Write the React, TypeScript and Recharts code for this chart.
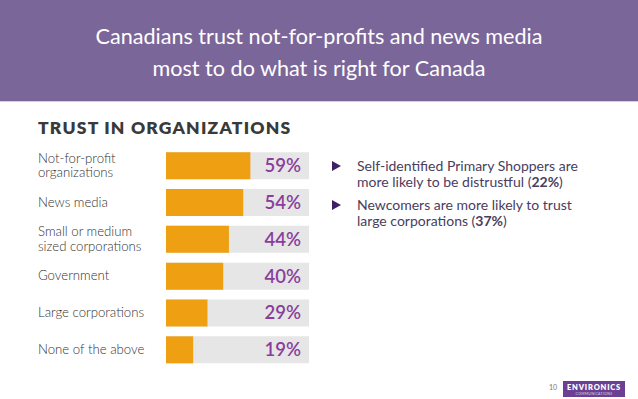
import React from "react";
import { BarChart, Bar, XAxis, YAxis, LabelList } from "recharts";

const categories = [
  "Not-for-profit|organizations",
  "News media",
  "Small or medium|sized corporations",
  "Government",
  "Large corporations",
  "None of the above",
];
const trustValues = [59, 54, 44, 40, 29, 19];
const titleLines = [
  "Canadians trust not-for-profits and news media",
  "most to do what is right for Canada",
];
const sectionTitle = "TRUST IN ORGANIZATIONS";
const SCALE_MAX = 100;

const data = categories.map((c, i) => ({ name: c, value: trustValues[i] }));

const PURPLE_HEADER = "#7b6699";
const ORANGE = "#ef9f12";
const GREY_BG = "#e6e6e6";
const VALUE_PURPLE = "#8a3d9d";
const FONT = "Lato, 'Noto Sans', sans-serif";

const CategoryTick = (props: any) => {
  const { y, payload } = props;
  const lines: string[] = String(payload.value).split("|");
  const lh = 14.5;
  const start = -((lines.length - 1) * lh) / 2;
  return (
    <text
      x={38}
      y={y}
      fill="#333"
      fontSize={13.2}
      fontFamily={FONT}
      fontWeight={300}
      textAnchor="start"
    >
      {lines.map((l, i) => (
        <tspan key={i} x={38} dy={i === 0 ? start + 4.5 : lh}>
          {l}
        </tspan>
      ))}
    </text>
  );
};

const ValueLabel = (props: any) => {
  const { x, y, width, height, value } = props;
  const right = x + (width * SCALE_MAX) / value - 8;
  return (
    <text
      x={right}
      y={y + height / 2 + 6.5}
      textAnchor="end"
      fill={VALUE_PURPLE}
      fontSize={18.5}
      fontWeight={600}
      fontFamily={FONT}
    >
      {value}%
    </text>
  );
};

export default function App() {
  return (
    <div
      style={{
        position: "absolute",
        left: 0,
        top: 0,
        width: 638,
        height: 399,
        background: "#fff",
        fontFamily: FONT,
        overflow: "hidden",
      }}
    >
      <div
        style={{
          position: "absolute",
          left: 0,
          top: 0,
          width: 638,
          height: 101,
          background: PURPLE_HEADER,
          borderBottom: "1.5px solid #cfcfcf",
        }}
      />
      {titleLines.map((t, i) => (
        <div
          key={i}
          style={{
            position: "absolute",
            left: 0,
            width: 638,
            top: 23 + i * 32,
            textAlign: "center",
            color: "#fff",
            fontSize: 21.6,
            fontFamily: FONT,
            lineHeight: "26px",
          }}
        >
          {t}
        </div>
      ))}
      <div
        style={{
          position: "absolute",
          left: 38,
          top: 117,
          color: "#3a3a3a",
          fontSize: 17.5,
          fontWeight: 800,
          letterSpacing: 1.2,
          lineHeight: "22px",
        }}
      >
        {sectionTitle}
      </div>

      <div style={{ position: "absolute", left: 0, top: 0 }}>
        <BarChart
          width={638}
          height={399}
          layout="vertical"
          data={data}
          margin={{ top: 147, bottom: 31, left: 0, right: 329 }}
          barCategoryGap="14%"
        >
          <XAxis type="number" domain={[0, SCALE_MAX]} hide />
          <YAxis
            type="category"
            dataKey="name"
            width={166}
            axisLine={false}
            tickLine={false}
            tick={<CategoryTick />}
            interval={0}
          />
          <Bar
            dataKey="value"
            fill={ORANGE}
            background={{ fill: GREY_BG }}
            isAnimationActive={false}
          >
            <LabelList dataKey="value" content={<ValueLabel />} />
          </Bar>
        </BarChart>
      </div>

      <div
        style={{
          position: "absolute",
          left: 330,
          top: 158,
          width: 295,
          color: "#4a3d5e",
          fontSize: 14,
          lineHeight: "16px",
        }}
      >
        {[
          ["Self-identified Primary Shoppers are", "more likely to be distrustful (", "22%", ")"],
          ["Newcomers are more likely to trust", "large corporations  (", "37%", ")"],
        ].map((b, i) => (
          <div key={i} style={{ position: "relative", paddingLeft: 27, marginBottom: 7 }}>
            <span
              style={{
                position: "absolute",
                left: 2,
                top: 3,
                width: 0,
                height: 0,
                borderTop: "5px solid transparent",
                borderBottom: "5px solid transparent",
                borderLeft: "9px solid #3f1f66",
              }}
            />
            {b[0]}
            <br />
            {b[1]}
            <b>{b[2]}</b>
            {b[3]}
          </div>
        ))}
      </div>

      <div
        style={{
          position: "absolute",
          left: 549,
          top: 383,
          fontSize: 7,
          color: "#777",
        }}
      >
        10
      </div>
      <div
        style={{
          position: "absolute",
          left: 563,
          top: 381,
          width: 62,
          height: 16,
          background: "#6b3f94",
          color: "#fff",
          textAlign: "center",
        }}
      >
        <div style={{ fontSize: 7.5, fontWeight: 800, letterSpacing: 0.8, lineHeight: "9px", marginTop: 2 }}>
          ENVIRONICS
        </div>
        <div style={{ fontSize: 3.5, letterSpacing: 0.3, lineHeight: "4px", color: "#ddd" }}>
          COMMUNICATIONS
        </div>
      </div>
    </div>
  );
}
